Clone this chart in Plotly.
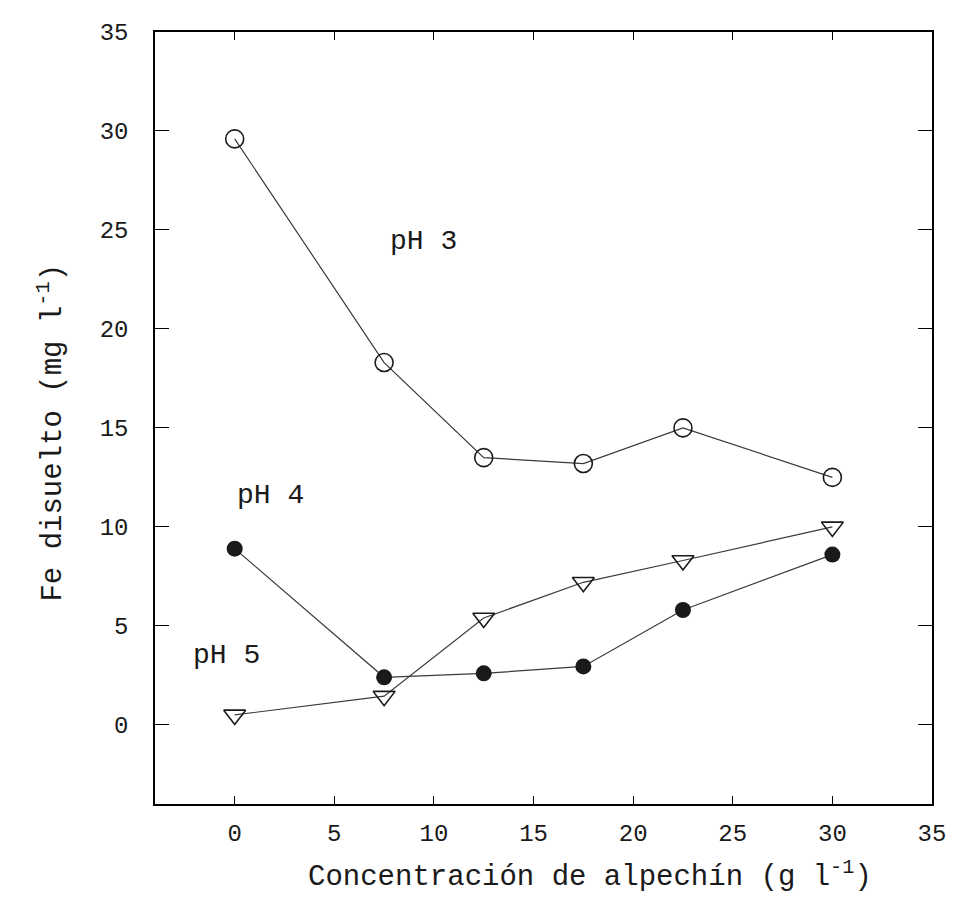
import plotly.graph_objects as go

# Data
alpechin = [0, 7.5, 12.5, 17.5, 22.5, 30]
fe_ph3 = [29.6, 18.3, 13.5, 13.2, 15.0, 12.5]
fe_ph4 = [8.9, 2.4, 2.6, 2.95, 5.8, 8.6]
fe_ph5 = [0.5, 1.45, 5.4, 7.2, 8.3, 10.0]

tick_vals = [0, 5, 10, 15, 20, 25, 30, 35]
tick_text = ["0", "5", "10", "15", "20", "25", "30", "35"]

series_labels = ["pH 3", "pH 4", "pH 5"]
label_x = [9.5, 1.8, -0.4]
label_y = [24.4, 11.6, 3.5]

x_title = "Concentración de alpechín (g l<sup>-1</sup>)"
y_title = "Fe disuelto (mg l<sup>-1</sup>)"

FONT = "Liberation Mono"
INK = "#1a1a1a"
LINE = "#3a3a3a"

fig = go.Figure()

fig.add_trace(go.Scatter(
    x=alpechin, y=fe_ph3, mode="lines+markers", name="pH 3",
    line=dict(color=LINE, width=1.2),
    marker=dict(symbol="circle-open", size=18, color=INK, line=dict(width=1.6, color=INK)),
))
fig.add_trace(go.Scatter(
    x=alpechin, y=fe_ph4, mode="lines+markers", name="pH 4",
    line=dict(color=LINE, width=1.2),
    marker=dict(symbol="circle", size=16, color=INK),
))
fig.add_trace(go.Scatter(
    x=alpechin, y=fe_ph5, mode="lines+markers", name="pH 5",
    line=dict(color=LINE, width=1.2),
    marker=dict(symbol="triangle-down-open", size=19, color=INK, line=dict(width=1.6, color=INK)),
))

for txt, lx, ly in zip(series_labels, label_x, label_y):
    fig.add_annotation(x=lx, y=ly, text=txt, showarrow=False,
                       font=dict(family=FONT, size=28, color=INK),
                       xanchor="center", yanchor="middle")

# axis titles placed as annotations to match the reference placement
fig.add_annotation(xref="paper", yref="paper", x=0.56, y=-0.092, text=x_title,
                   showarrow=False, xanchor="center", yanchor="middle",
                   font=dict(family=FONT, size=29, color=INK))
fig.add_annotation(xref="paper", yref="paper", x=-0.134, y=0.481, text=y_title,
                   showarrow=False, xanchor="center", yanchor="middle", textangle=-90,
                   font=dict(family=FONT, size=29, color=INK))

axis_common = dict(
    showgrid=False, zeroline=False,
    showline=True, linecolor="black", linewidth=1.5, mirror="ticks",
    ticks="inside", tickcolor="black", tickwidth=1.2,
    tickvals=tick_vals, ticktext=tick_text,
    tickfont=dict(family=FONT, size=24, color=INK),
)

# The page body has an 8px default margin, so the figure is 8px smaller
# in each direction to fill the 958x911 window.
fig.update_layout(
    width=950, height=903, autosize=False,
    margin=dict(l=147, r=21, t=12, b=107),
    paper_bgcolor="white", plot_bgcolor="white",
    showlegend=False,
    xaxis=dict(range=[-4, 35], ticklen=8, ticklabelstandoff=6, **axis_common),
    yaxis=dict(range=[-4, 35], ticklen=14, ticklabelstandoff=20, **axis_common),
)

fig.write_html("out.html")
